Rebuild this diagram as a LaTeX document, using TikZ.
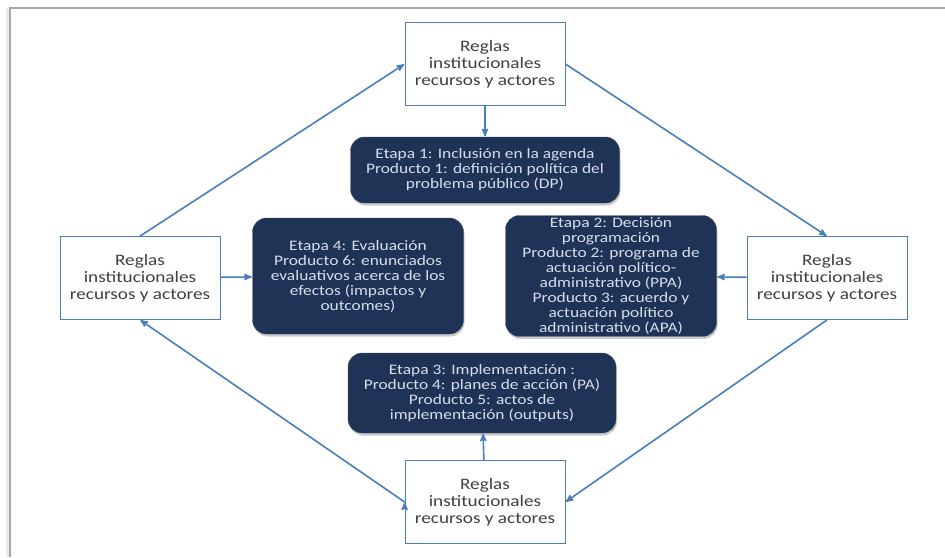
\documentclass[tikz,border=0pt]{standalone}
\usepackage{fontspec}
\setmainfont[FakeStretch=1.2]{Carlito}
\usepackage{tikz}
\usetikzlibrary{arrows,shadows}
\definecolor{azul}{RGB}{74,126,187}
\definecolor{marino}{RGB}{31,51,87}
\definecolor{textoclaro}{RGB}{214,222,234}
\definecolor{textogris}{RGB}{64,64,64}
\tikzset{
    %Define standard arrow tip
    >=stealth',
    %Define style for white boxes
    reglas/.style={
           rectangle,
           draw=azul, thick,
           fill=white,
           minimum width=160pt,
           minimum height=83pt,
           inner sep=2pt,
           font=\fontsize{16}{17}\selectfont,
           text=textogris,
           align=center},
    %Define style for dark boxes
    etapa/.style={
           rectangle,
           rounded corners=14pt,
           draw=marino!85!white,
           fill=marino,
           drop shadow={shadow xshift=1pt, shadow yshift=-2.5pt, fill=black!45, opacity=0.45},
           inner sep=2pt,
           font=\fontsize{14.5}{15}\selectfont,
           text=textoclaro,
           align=center},
    % Define arrow style
    flecha/.style={
           ->,
           draw=azul,
           line width=1.6pt,
           shorten >=0.5pt}
}
\begin{document}
\begin{tikzpicture}[x=1pt,y=-1pt]
\useasboundingbox (0,0) rectangle (945,557);
 %frame
\draw[black!8, line width=3pt] (7,557) -- (7,8);
\draw[black!35, line width=1.2pt] (10,557) -- (10,8) -- (945,8);
 %nodes
\node[reglas] (R1) at (485,64) {Reglas\\institucionales\\recursos y actores};
\node[reglas] (R2) at (827,278) {Reglas\\institucionales\\recursos y actores};
\node[reglas] (R3) at (485,502) {Reglas\\institucionales\\recursos y actores};
\node[reglas] (R4) at (140,278) {Reglas\\institucionales\\recursos y actores};
\node[etapa, minimum width=269pt, minimum height=66pt] (E1) at (485,170)
    {Etapa 1: Inclusión en la agenda\\Producto 1: definición política del\\problema público (DP)};
\node[etapa, minimum width=211pt, minimum height=116pt] (E2) at (611,276)
    {Etapa 2: Decisión\\programación\\Producto 2: programa de\\actuación político-\\administrativo (PPA)\\Producto 3: acuerdo y\\actuación político\\administrativo (APA)};
\node[etapa, minimum width=268pt, minimum height=80pt] (E3) at (482,393)
    {Etapa 3: Implementación :\\Producto 4: planes de acción (PA)\\Producto 5: actos de\\implementación (outputs)};
\node[etapa, minimum width=211pt, minimum height=116pt] (E4) at (358,276)
    {Etapa 4: Evaluación\\Producto 6: enunciados\\evaluativos acerca de los\\efectos (impactos y\\outcomes)};
 %arrows
\path[flecha]
    (R1) edge (E1)
    (R2) edge (E2)
    (R3) edge (E3)
    (R4) edge (E4)
    (R4.north) edge (R1.west)
    (R1.east) edge (R2.north)
    (R2.south) edge (R3.east)
    (R3.west) edge (R4.south);
\end{tikzpicture}
\end{document}
